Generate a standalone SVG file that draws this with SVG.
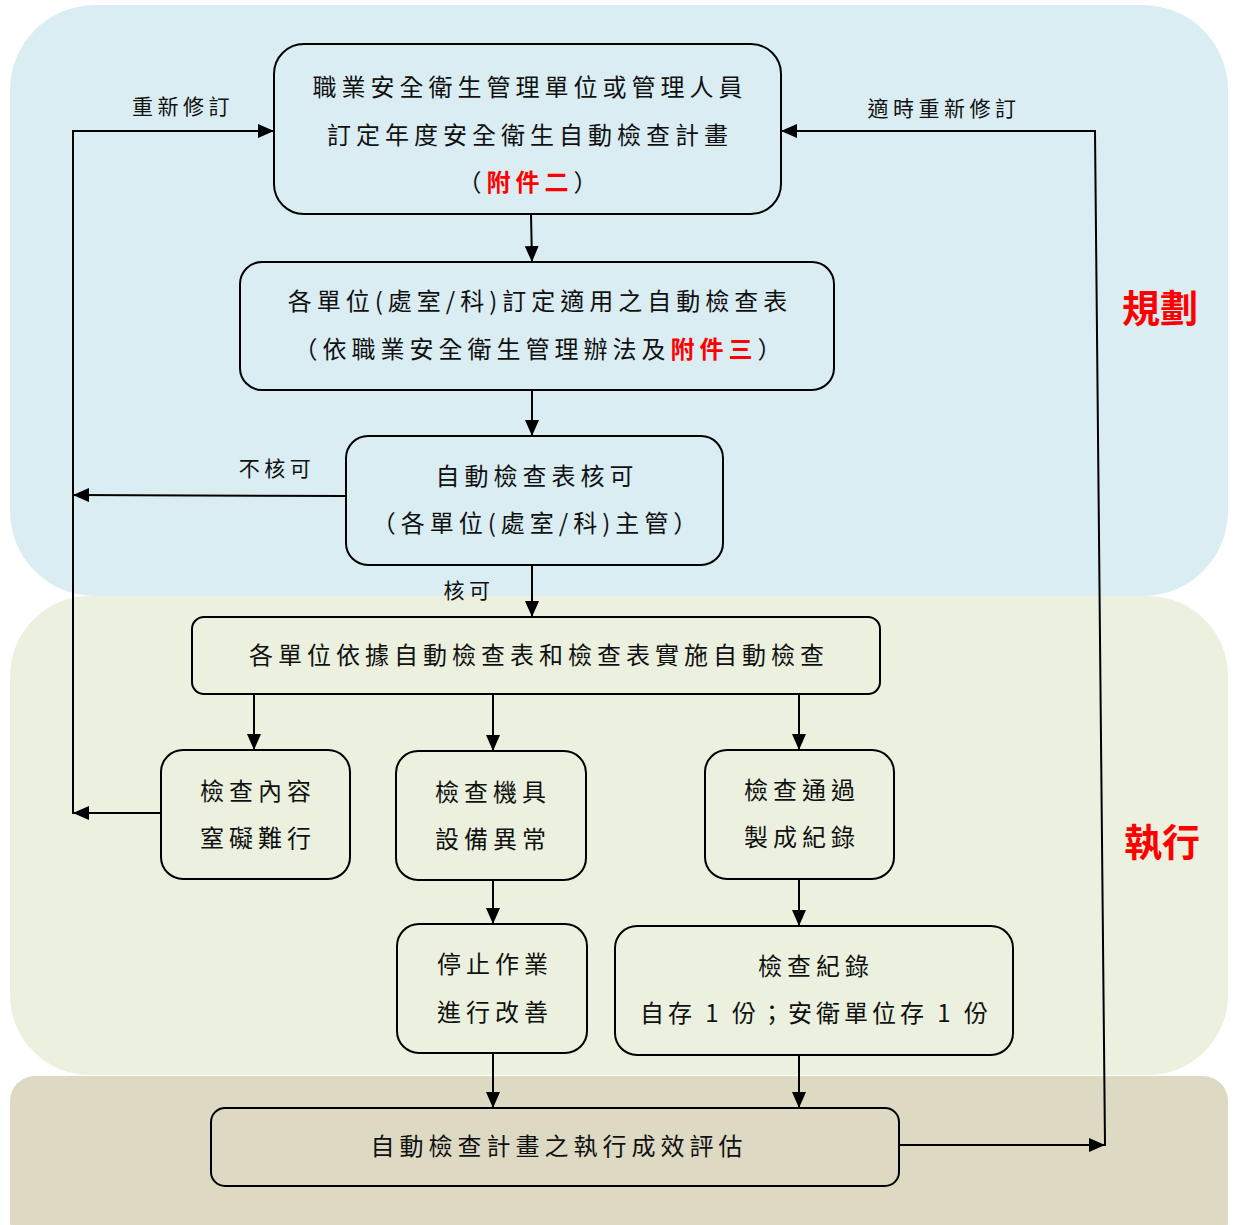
<svg xmlns="http://www.w3.org/2000/svg" width="1234" height="1225" viewBox="0 0 1234 1225">
<defs>
<marker id="arr" markerUnits="userSpaceOnUse" markerWidth="17" markerHeight="14" refX="16" refY="7" orient="auto">
<path d="M0,0 L16,7 L0,14 Z" fill="#000"/>
</marker>
<style>
.box{fill:none;stroke:#000;stroke-width:2}
.t{font-family:"Noto Sans CJK TC","Noto Sans CJK SC",sans-serif;font-size:24px;fill:#111;text-anchor:middle;letter-spacing:5px}
.lb{font-family:"Noto Sans CJK TC","Noto Sans CJK SC",sans-serif;font-size:21px;fill:#111;text-anchor:middle;letter-spacing:4.5px}
.red{fill:#ff0000;font-weight:bold}
.phase{font-family:"Noto Sans CJK TC","Noto Sans CJK SC",sans-serif;font-size:38px;font-weight:bold;fill:#ff0000;text-anchor:middle}
.c{fill:none;stroke:#000;stroke-width:2}
</style>
</defs>
<rect width="1234" height="1225" fill="#fff"/>
<g id="bands">
<rect x="10" y="5" width="1218" height="591" rx="85" ry="85" fill="#DAEDF3"/>
<rect x="10" y="596" width="1218" height="479" rx="80" ry="80" fill="#EBF1DE"/>
<rect x="10" y="1076" width="1218" height="170" rx="25" ry="25" fill="#DDD9C3"/>
<text class="phase" x="1160" y="322">規劃</text>
<text class="phase" x="1162" y="856">執行</text>
</g>
<g id="connectors">
<polyline class="c" points="161,813 73,813 73,131 274,131" marker-end="url(#arr)"/>
<line class="c" x1="161" y1="813" x2="73" y2="813" marker-end="url(#arr)"/>
<line class="c" x1="346" y1="496" x2="73" y2="495" marker-end="url(#arr)"/>
<polyline class="c" points="899,1145 1105,1145 1095,131 781,131" marker-end="url(#arr)"/>
<line class="c" x1="899" y1="1145" x2="1105" y2="1145" marker-end="url(#arr)"/>
<line class="c" x1="531" y1="214" x2="532" y2="262" marker-end="url(#arr)"/>
<line class="c" x1="532" y1="390" x2="532" y2="436" marker-end="url(#arr)"/>
<line class="c" x1="532" y1="565" x2="532" y2="617" marker-end="url(#arr)"/>
<line class="c" x1="254" y1="694" x2="254" y2="750" marker-end="url(#arr)"/>
<line class="c" x1="493" y1="694" x2="493" y2="751" marker-end="url(#arr)"/>
<line class="c" x1="799" y1="694" x2="799" y2="750" marker-end="url(#arr)"/>
<line class="c" x1="493" y1="880" x2="493" y2="924" marker-end="url(#arr)"/>
<line class="c" x1="799" y1="879" x2="799" y2="926" marker-end="url(#arr)"/>
<line class="c" x1="493" y1="1053" x2="493" y2="1108" marker-end="url(#arr)"/>
<line class="c" x1="799" y1="1055" x2="799" y2="1108" marker-end="url(#arr)"/>
<text class="lb" x="183" y="114">重新修訂</text>
<text class="lb" x="944" y="116">適時重新修訂</text>
<text class="lb" x="277" y="476">不核可</text>
<text class="lb" x="469" y="598">核可</text>
</g>
<g id="n1">
<rect class="box" x="274" y="44" width="507" height="170" rx="30"/>
<text class="t" x="530" y="96">職業安全衛生管理單位或管理人員</text>
<text class="t" x="530" y="144">訂定年度安全衛生自動檢查計畫</text>
<text class="t" x="530" y="191">（<tspan class="red">附件二</tspan>）</text>
</g>
<g id="n2">
<rect class="box" x="240" y="262" width="594" height="128" rx="22"/>
<text class="t" x="540" y="310">各單位(處室/科)訂定適用之自動檢查表</text>
<text class="t" x="540" y="358">（依職業安全衛生管理辦法及<tspan class="red">附件三</tspan>）</text>
</g>
<g id="n3">
<rect class="box" x="346" y="436" width="377" height="129" rx="22"/>
<text class="t" x="537" y="485">自動檢查表核可</text>
<text class="t" x="537" y="532">（各單位(處室/科)主管）</text>
</g>
<g id="n4">
<rect class="box" x="192" y="617" width="688" height="77" rx="12"/>
<text class="t" x="539" y="664">各單位依據自動檢查表和檢查表實施自動檢查</text>
</g>
<g id="n5a">
<rect class="box" x="161" y="750" width="189" height="129" rx="22"/>
<text class="t" x="258" y="800">檢查內容</text>
<text class="t" x="258" y="847">窒礙難行</text>
</g>
<g id="n5b">
<rect class="box" x="396" y="751" width="190" height="129" rx="22"/>
<text class="t" x="493" y="801">檢查機具</text>
<text class="t" x="493" y="848">設備異常</text>
</g>
<g id="n5c">
<rect class="box" x="705" y="750" width="189" height="129" rx="22"/>
<text class="t" x="802" y="799">檢查通過</text>
<text class="t" x="802" y="846">製成紀錄</text>
</g>
<g id="n6a">
<rect class="box" x="397" y="924" width="190" height="129" rx="22"/>
<text class="t" x="495" y="973">停止作業</text>
<text class="t" x="495" y="1021">進行改善</text>
</g>
<g id="n6b">
<rect class="box" x="615" y="926" width="398" height="129" rx="22"/>
<text class="t" x="816" y="975">檢查紀錄</text>
<text class="t" x="816" y="1022" style="letter-spacing:4px">自存 1 份；安衛單位存 1 份</text>
</g>
<g id="n7">
<rect class="box" x="211" y="1108" width="688" height="78" rx="14"/>
<text class="t" x="559" y="1155">自動檢查計畫之執行成效評估</text>
</g>
</svg>
